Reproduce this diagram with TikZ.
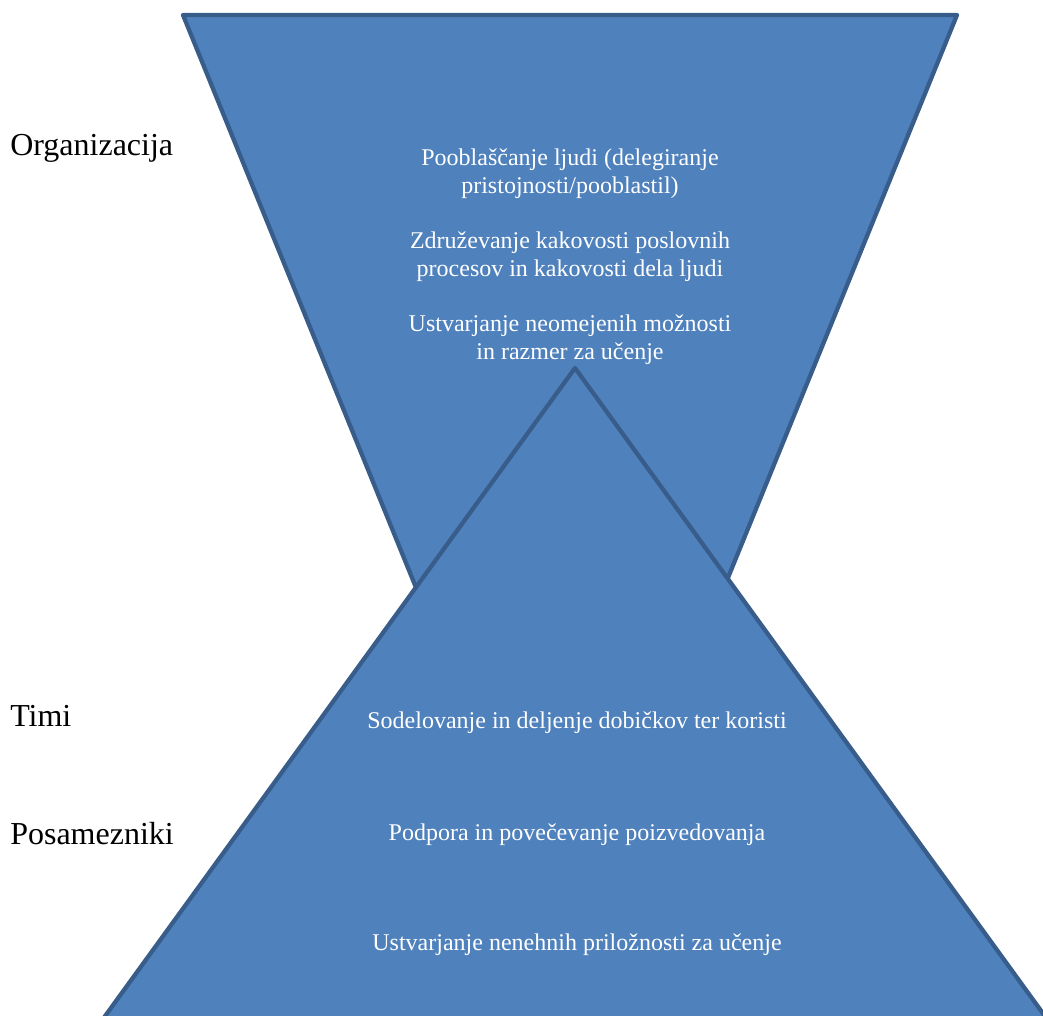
\documentclass[tikz,border=0pt]{standalone}
\usepackage{fontspec}
\setmainfont{Liberation Serif}
\usepackage{tikz}
\usetikzlibrary{positioning}
\usepackage{xcolor}
\definecolor{fillblue}{HTML}{4F81BD}
\definecolor{edgeblue}{HTML}{385D8A}

\begin{document}
\begin{tikzpicture}[x=0.75pt,y=-0.75pt,
  funnel/.style={fill=fillblue,draw=edgeblue,line width=3.2pt,line join=round},
  level/.style={anchor=west,inner sep=0pt,font=\fontsize{24}{28}\selectfont},
  item/.style={text=white,align=center,inner sep=0pt,font=\fontsize{18}{21}\selectfont},
  every node/.style={align=center}]

  \useasboundingbox (0,0) rectangle (1043,1016);
  \clip (0,0) rectangle (1043,1016);

  % inverted triangle, then the upright one over it
  \draw[funnel] (183,15) -- (957,15) -- (570,966) -- cycle;
  \draw[funnel] (575,368) -- (1055,1030) -- (95,1030) -- cycle;

  \node[level] (org) at (10,148) {Organizacija};
  \node[level] (timi) at (10,716) {Timi};
  \node[level] (posam) at (10,834) {Posamezniki};

  \node[item] (pooblas) at (570,174) {Pooblaščanje ljudi (delegiranje\\pristojnosti/pooblastil)};
  \node[item] (zdruz) at (570,257) {Združevanje kakovosti poslovnih\\procesov in kakovosti dela ljudi};
  \node[item] (ustvar) at (570,340) {Ustvarjanje neomejenih možnosti\\in razmer za učenje};

  \node[item] (sodel) at (577,723) {Sodelovanje in deljenje dobičkov ter koristi};
  \node[item] (podpora) at (577,835) {Podpora in povečevanje poizvedovanja};
  \node[item] (nenehne) at (577,945) {Ustvarjanje nenehnih priložnosti za učenje};
\end{tikzpicture}
\end{document}
